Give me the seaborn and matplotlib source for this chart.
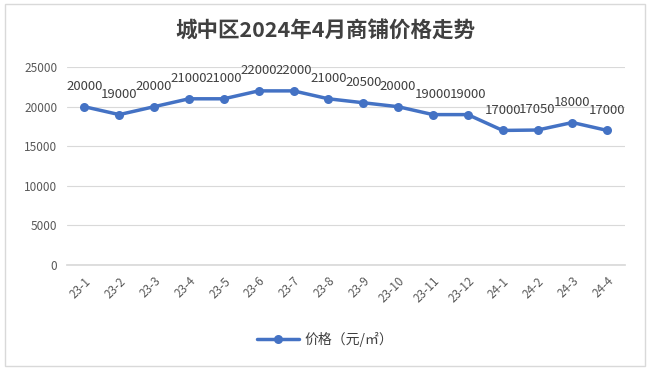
import matplotlib
matplotlib.use("Agg")
import matplotlib.pyplot as plt
import seaborn as sns
import pandas as pd
from matplotlib.patches import Rectangle

months = ["23-1", "23-2", "23-3", "23-4", "23-5", "23-6", "23-7", "23-8",
          "23-9", "23-10", "23-11", "23-12", "24-1", "24-2", "24-3", "24-4"]
prices = [20000, 19000, 20000, 21000, 21000, 22000, 22000, 21000,
          20500, 20000, 19000, 19000, 17000, 17050, 18000, 17000]
y_ticks = [0, 5000, 10000, 15000, 20000, 25000]
title = "城中区2024年4月商铺价格走势"
series_name = "价格（元/㎡）"

sns.set_theme(style="white")
plt.rcParams['font.family'] = ['Noto Sans CJK SC', 'DejaVu Sans']

df = pd.DataFrame({"x": range(len(months)), "price": prices})

fig = plt.figure(figsize=(6.5, 3.71), dpi=100)
ax = fig.add_axes([0.103, 0.286, 0.858, 0.533])

color = "#4472C4"
sns.lineplot(data=df, x="x", y="price", ax=ax, color=color, linewidth=2.5,
             marker="o", markersize=6.5, markeredgewidth=0, label=series_name,
             legend=False)

for i, v in enumerate(prices):
    ax.annotate(f"{v}", (i, v), xytext=(0, 10), textcoords="offset points",
                ha="center", va="bottom", fontsize=9.5, color="#404040")

ax.set_xlim(-0.5, len(months) - 0.5)
ax.set_ylim(0, 25000)
ax.set_yticks(y_ticks)
ax.set_yticklabels([str(t) for t in y_ticks], fontsize=8.5, color="#595959")
ax.set_xticks(range(len(months)))
ax.set_xticklabels(months, rotation=45, ha="right", rotation_mode="anchor",
                   fontsize=8.5, color="#595959")
ax.tick_params(axis="both", length=0, pad=7)
ax.yaxis.grid(True, color="#d9d9d9", linewidth=0.8)
ax.xaxis.grid(False)
for s in ["top", "right", "left"]:
    ax.spines[s].set_visible(False)
ax.spines["bottom"].set_color("#d9d9d9")
ax.set_xlabel("")
ax.set_ylabel("")

fig.text(0.5, 0.915, title, ha="center", va="center", fontsize=15.5,
         fontweight="bold", color="#404040")

handles, labels = ax.get_legend_handles_labels()
fig.legend(handles, labels, loc="center", bbox_to_anchor=(0.5, 0.085),
           frameon=False, fontsize=10, handlelength=3, handletextpad=0.4,
           labelcolor="#404040")

fig.patches.append(Rectangle((0.007, 0.013), 0.985, 0.975, transform=fig.transFigure,
                             fill=False, edgecolor="#d9d9d9", linewidth=1))

fig.savefig("out.png", dpi=100, facecolor="white")
